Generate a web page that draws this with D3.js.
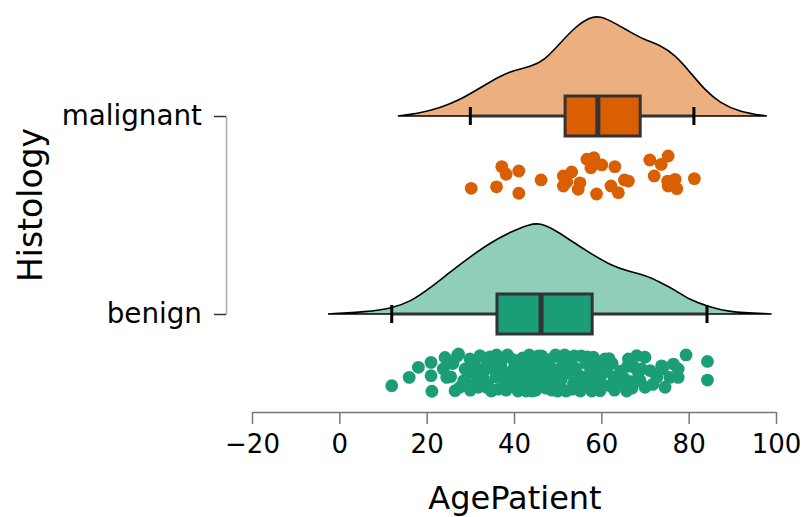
<!DOCTYPE html>
<html>
<head>
<meta charset="utf-8">
<script src="https://cdn.jsdelivr.net/npm/d3@7"></script>
<style>
body { margin: 0; background: #fff; }
text { font-family: "DejaVu Sans", sans-serif; fill: #000; }
</style>
</head>
<body>
<svg id="chart" width="806" height="517"></svg>
<script>
var groups = ["benign", "malignant"];
var xTicks = [-20, 0, 20, 40, 60, 80, 100];

// box stats: [whiskerLow, q1, median, q3, whiskerHigh]
var boxMalignant = [30.0, 51.7, 59.2, 68.9, 81.2];
var boxBenign = [12.0, 36.1, 46.2, 57.9, 84.2];

// density outline (age, relative height)
var densAgeMalignant = [13.4, 18.5, 23.0, 27.6, 32.2, 36.8, 40.2, 43.7, 47.1, 50.6, 54.0, 57.4, 59.7, 63.1, 66.6, 70.0, 73.4, 76.9, 80.3, 83.7, 87.2, 91.7, 97.9];
var densValMalignant = [0, 3, 8, 16, 28, 40, 46, 49, 56, 73, 89, 99, 100, 93, 84, 76, 71, 61, 44, 26, 13, 4, 0];
var densAgeBenign = [-2.6, 6.3, 12.1, 16.2, 20.8, 25.4, 29.9, 34.5, 39.1, 43.7, 46.0, 49.4, 52.8, 57.4, 62.0, 66.6, 70.0, 73.4, 76.9, 80.3, 84.2, 88.7, 99.0];
var densValBenign = [0, 2, 6, 12, 26, 42, 57, 71, 82, 90, 91, 84, 74, 61, 49, 42, 39, 32, 24, 14, 8, 2, 0];

// raw points: age and vertical jitter (-1..1)
var ageMalignant = [30.2, 36.0, 37.2, 38.2, 41.1, 41.1, 46.2, 51.3, 53.2, 51.3, 52.1, 56.7, 58.3, 57.6, 60.1, 63.1, 55.1, 54.7, 58.9, 62.2, 63.9, 65.3, 66.2, 71.1, 73.7, 75.3, 72.1, 75.2, 76.9, 77.3, 75.3, 81.3];
var jitMalignant = [0.70, 0.62, -0.44, -0.04, -0.21, 0.96, 0.26, 0.05, -0.16, 0.58, 0.35, -0.83, -0.91, -0.38, -0.53, -0.44, 0.41, 0.75, 1.0, 0.58, 0.93, 0.26, 0.32, -0.79, -0.56, -1.0, 0.05, 0.32, 0.23, 0.72, 0.58, 0.19];

var ageBenign = [12.0, 16.0, 18.1, 21.0, 21.0, 21.2, 24.2, 23.8, 24.6, 26.5, 27.6, 27.3, 29.9, 28.8, 30.7, 32.2, 31.8, 33.7,
  58.2, 60.8, 61.2, 58.9, 62.0, 63.9, 65.0, 66.2, 68.1, 70.0, 69.2, 71.2, 68.9, 70.0, 72.7, 73.8, 74.6, 75.7, 76.5, 77.6, 77.6, 79.4, 84.3, 84.3, 59.7,
  34.5, 35.2, 35.8, 36.4, 37.1, 37.9, 38.5, 39.0, 39.6, 40.3, 40.9, 41.5, 42.0, 42.6, 43.2, 43.9, 44.5, 45.0, 45.6, 46.1, 46.8, 47.3, 47.9, 48.4, 49.0, 49.6,
  50.2, 50.8, 51.3, 51.9, 52.4, 53.0, 53.6, 54.1, 54.8, 55.4, 55.9, 56.5, 57.1, 57.6,
  33.0, 33.8, 36.0, 38.2, 39.8, 41.0, 42.8, 44.0, 45.3, 47.0, 48.7, 49.5, 50.5, 52.0, 53.3, 55.0, 56.8, 58.0, 26.0, 28.5, 30.0, 31.0, 32.5, 34.0, 36.9,
  43.5, 46.5, 51.0, 54.5, 57.3, 60.0, 62.5, 64.5, 66.8, 67.5, 63.0, 65.8,
  27.0, 29.0, 31.5, 33.5, 35.5, 37.5, 39.3, 41.2, 43.0, 44.8, 46.3, 48.0, 49.8, 51.6, 53.8, 56.0, 58.5, 60.5, 61.8, 64.0,
  66.0, 68.5, 29.5, 32.0, 34.8, 37.0, 40.0, 42.3, 44.2, 46.0, 48.2, 50.0, 52.7, 55.2, 57.8, 60.3, 62.8, 65.3, 67.0, 71.8,
  74.0, 25.5, 38.8, 47.5];
var jitBenign = [0.67, 0.23, -0.30, -0.56, 0.14, 0.96, -0.82, -0.21, 0.23, 0.93, 0.75, -1.0, -0.74, -0.21, -0.04, -0.91, 0.75, 0.75,
  -0.83, -0.74, -0.21, 0.58, 0.67, 0.23, 0.58, -0.74, -0.91, -0.83, -0.21, -0.12, 0.41, 0.75, 0.23, -0.38, 0.75, 0.23, -0.47, -0.21, 0.23, -0.95, -0.61, 0.37, 0.93,
  -0.85, -0.3, 0.2, 0.85, -0.6, 0.45, -0.95, 0.0, 0.7, -0.45, 0.95, 0.3, -0.8, -0.15, 0.6, -0.55, 0.1, 0.9, -0.9, 0.4, -0.3, 0.8, -0.7, 0.15, -0.2, 0.65,
  -0.85, 0.35, -0.45, 0.95, 0.0, -0.7, 0.55, -0.25, 0.85, -0.9, 0.3, -0.5, 0.7, -0.1,
  0.3, -0.5, -0.95, 0.9, -0.7, -0.2, 0.95, 0.45, -0.35, 0.1, 0.9, -0.95, 0.6, -0.3, 0.85, 0.15, -0.85, 0.4, -0.5, 0.4, 0.9, -0.4, 0.2, 0.6, -0.1,
  -0.95, 0.7, 0.1, 0.5, 0.1, 0.1, -0.5, -0.1, 0.45, -0.3, 0.9, 0.95,
  -0.9, 0.55, 0.45, -0.2, -0.65, 0.1, 0.35, 0.6, -0.4, -0.7, -0.9, -0.45, 0.35, -0.95, -0.9, 0.55, -0.4, 0.65, -0.75, 0.5,
  -0.35, 0.0, 0.0, -0.1, 0.95, -0.35, -0.25, 0.2, 0.95, -0.6, 0.55, 0.95, -0.55, 0.95, 0.95, -0.3, 0.2, 0.3, 0.8, 0.6,
  -0.2, 0.2, 0.75, 0.5];

var series = [
  {name: "malignant", box: boxMalignant, dAge: densAgeMalignant, dVal: densValMalignant, age: ageMalignant, jit: jitMalignant, light: "#ecb080", dark: "#d95f02"},
  {name: "benign", box: boxBenign, dAge: densAgeBenign, dVal: densValBenign, age: ageBenign, jit: jitBenign, light: "#8fcfba", dark: "#1b9e77"}
];

var svg = d3.select("#chart");

var x = d3.scaleLinear().domain([-20, 100]).range([252, 776]);
var y = d3.scalePoint().domain(groups).range([314, 116]);
var h = d3.scaleLinear().domain([0, 100]).range([0, 100]);
var jitterOffset = 59, jitterSpread = 19;
var boxHalf = 20;

series.forEach(function(s) {
  var base = y(s.name);
  var g = svg.append("g");

  var dens = s.dAge.map(function(a, i) { return [a, s.dVal[i]]; });
  var area = d3.area()
    .x(function(d) { return x(d[0]); })
    .y0(base)
    .y1(function(d) { return base - h(d[1]); })
    .curve(d3.curveBasis);
  g.append("path")
    .datum(dens)
    .attr("d", area)
    .attr("fill", s.light)
    .attr("stroke", "#000")
    .attr("stroke-width", 1.6);

  // whisker
  g.append("line")
    .attr("x1", x(s.box[0])).attr("x2", x(s.box[4]))
    .attr("y1", base).attr("y2", base)
    .attr("stroke", "#333").attr("stroke-width", 3);
  [s.box[0], s.box[4]].forEach(function(v) {
    g.append("line")
      .attr("x1", x(v)).attr("x2", x(v))
      .attr("y1", base - 9).attr("y2", base + 9)
      .attr("stroke", "#000").attr("stroke-width", 3);
  });

  g.append("rect")
    .attr("x", x(s.box[1]))
    .attr("y", base - boxHalf)
    .attr("width", x(s.box[3]) - x(s.box[1]))
    .attr("height", boxHalf * 2)
    .attr("fill", s.dark)
    .attr("stroke", "#333")
    .attr("stroke-width", 3);
  g.append("line")
    .attr("x1", x(s.box[2])).attr("x2", x(s.box[2]))
    .attr("y1", base - boxHalf).attr("y2", base + boxHalf)
    .attr("stroke", "#333").attr("stroke-width", 5);

  g.selectAll(".pt")
    .data(s.age.map(function(a, i) { return [a, s.jit[i]]; }))
    .enter()
    .append("circle")
    .attr("class", "pt")
    .attr("cx", function(d) { return x(d[0]); })
    .attr("cy", function(d) { return base + jitterOffset + d[1] * jitterSpread; })
    .attr("r", 6.4)
    .attr("fill", s.dark);
});

// x axis
var xAxis = svg.append("g")
  .attr("transform", "translate(0,412)")
  .call(d3.axisBottom(x).tickValues(xTicks).tickSize(12).tickSizeOuter(0).tickPadding(11).tickFormat(d3.format("d")));
xAxis.select(".domain").attr("stroke", "#777").attr("stroke-width", 1.5);
xAxis.selectAll(".tick line").attr("stroke", "#777").attr("stroke-width", 1.5);
xAxis.selectAll(".tick text").attr("font-size", 26).attr("font-family", "DejaVu Sans").attr("fill", "#000")
  .text(function(d) { return d < 0 ? "\u2212" + Math.abs(d) : d; });

// y axis
var yAxis = svg.append("g")
  .attr("transform", "translate(226,0)")
  .call(d3.axisLeft(y).tickSize(12).tickSizeOuter(0).tickPadding(12));
yAxis.select(".domain").attr("stroke", "#aaa").attr("stroke-width", 1.5);
yAxis.selectAll(".tick line").attr("stroke", "#333").attr("stroke-width", 1.5);
yAxis.selectAll(".tick text").attr("font-size", 27.8).attr("font-family", "DejaVu Sans").attr("fill", "#000");

svg.append("text")
  .attr("x", 515)
  .attr("y", 509)
  .attr("text-anchor", "middle")
  .attr("font-size", 32)
  .text("AgePatient");

svg.append("text")
  .attr("transform", "translate(42,205) rotate(-90)")
  .attr("text-anchor", "middle")
  .attr("font-size", 33)
  .text("Histology");
</script>
</body>
</html>
